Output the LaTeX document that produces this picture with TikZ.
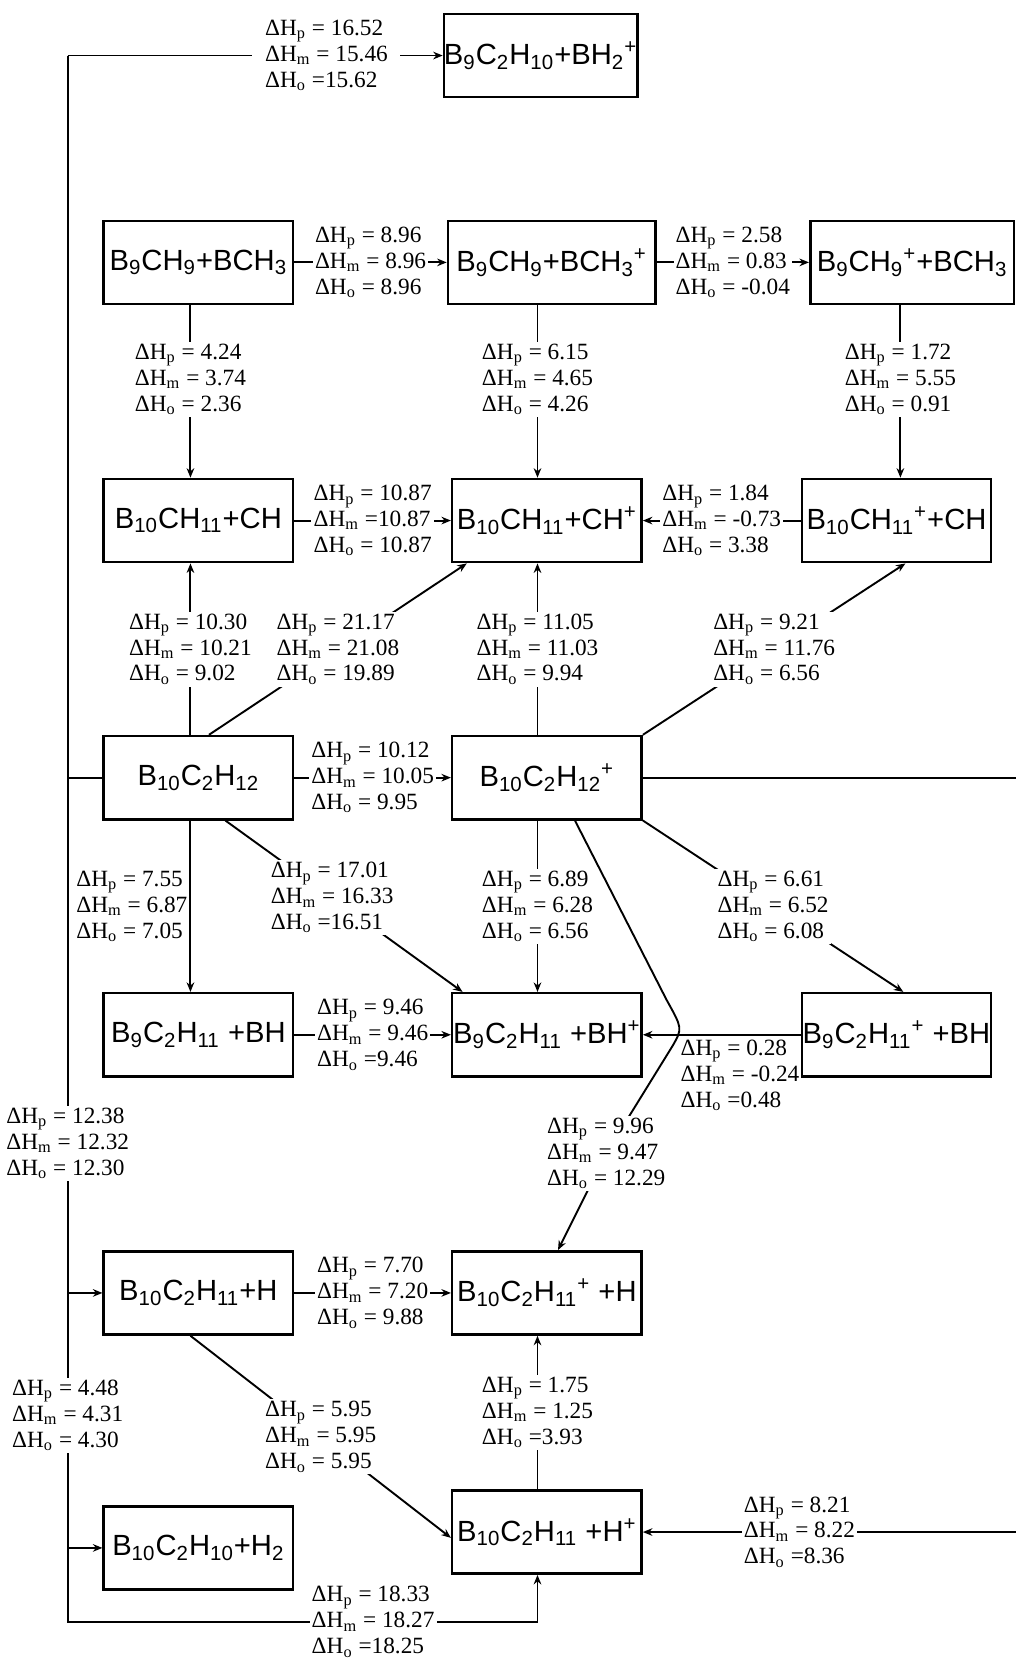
\documentclass[tikz,border=0pt]{standalone}
\usepackage{fontspec}
\setmainfont{Liberation Serif}
\newfontfamily\boxfont{Liberation Sans}
\usetikzlibrary{arrows.meta,positioning}
\newcommand{\ssub}[1]{\textsubscript{#1}}
\newcommand{\chg}{\textsuperscript{+}}
\newcommand{\dHs}[1]{ΔH\textsubscript{#1}}

\begin{document}
\begin{tikzpicture}[
    x=0.5pt, y=-0.5pt,
    species/.style={rectangle, draw, line width=1.2pt, minimum width=89.5pt, minimum height=39.3pt, inner xsep=0pt, inner ysep=1pt, font=\boxfont\fontsize{13.8}{17}\selectfont},
    lbl/.style={align=left, inner sep=1pt, font=\fontsize{11}{12.25}\selectfont},
    brk/.style={lbl, fill=white},
    arr/.style={-{Stealth[length=4.5pt, width=3.6pt]}, line width=0.9pt},
    ln/.style={line width=0.9pt}
]
\useasboundingbox (0,0) rectangle (960,1568);

% species
\node[species] (neut) at (187.5,735) {B\ssub{10}C\ssub{2}H\ssub{12}};
\node[species, right=74pt of neut] (ion) {B\ssub{10}C\ssub{2}H\ssub{12}\chg};
\node[species, above=81pt of neut] (ch) {B\ssub{10}CH\ssub{11}+CH};
\node[species, right=74pt of ch] (chp) {B\ssub{10}CH\ssub{11}+CH\chg};
\node[species, right=74.5pt of chp] (cb10p) {B\ssub{10}CH\ssub{11}\chg+CH};
\node[species, above=81.5pt of ch] (ch3) {B\ssub{9}CH\ssub{9}+BCH\ssub{3}};
\node[species, right=72pt of ch3, minimum width=98pt] (ch3p) {B\ssub{9}CH\ssub{9}+BCH\ssub{3}\chg};
\node[species, right=72pt of ch3p, minimum width=96.3pt] (b9chp) {B\ssub{9}CH\ssub{9}\chg+BCH\ssub{3}};
\node[species] (bhtwop) at (511,52.5) {B\ssub{9}C\ssub{2}H\ssub{10}+BH\ssub{2}\chg};
\node[species, below=81pt of neut] (bh) {B\ssub{9}C\ssub{2}H\ssub{11} +BH};
\node[species, right=74pt of bh] (bhp) {B\ssub{9}C\ssub{2}H\ssub{11} +BH\chg};
\node[species, right=74.5pt of bhp] (b9c2p) {B\ssub{9}C\ssub{2}H\ssub{11}\chg{} +BH};
\node[species, below=81.5pt of bh] (hh) {B\ssub{10}C\ssub{2}H\ssub{11}+H};
\node[species, right=74pt of hh] (hion) {B\ssub{10}C\ssub{2}H\ssub{11}\chg{} +H};
\node[species, below=80pt of hh] (htwo) {B\ssub{10}C\ssub{2}H\ssub{10}+H\ssub{2}};
\node[species, below=72.5pt of hion] (hp) {B\ssub{10}C\ssub{2}H\ssub{11} +H\chg};

% bus lines and bend points
\coordinate (bus) at (64,0);
\coordinate (busbot) at (64,1533);
\coordinate (rbus) at (960,0);
\coordinate (colL) at (180,0);
\coordinate (colM) at (508,0);
\coordinate (colR) at (851,0);
\coordinate (bendA) at (630,945);
\coordinate (bendB) at (645,972);
\coordinate (bendC) at (636,988);
\coordinate (k996) at (573,1090);

% left bus
\draw[arr] (bus |- bhtwop) -- node[brk, pos=0.69, inner xsep=6pt]{\dHs{p} = 16.52\\\dHs{m} = 15.46\\\dHs{o} =15.62} (bhtwop);
\draw[arr] (bus |- bhtwop) -- (bus |- neut)
    -- node[brk, pos=0.71]{\dHs{p} = 12.38\\\dHs{m} = 12.32\\\dHs{o} = 12.30} (bus |- hh)
    -- node[brk, pos=0.48]{\dHs{p} = 4.48\\\dHs{m} = 4.31\\\dHs{o} = 4.30} (bus |- htwo)
    -- (busbot)
    -- node[brk, pos=0.65]{\dHs{p} = 18.33\\\dHs{m} = 18.27\\\dHs{o} =18.25} (busbot -| colM)
    -- (colM |- hp.south);
\draw[ln] (bus |- neut) -- (neut);
\draw[arr] (bus |- hh) -- (hh);
\draw[arr] (bus |- htwo) -- (htwo);

% horizontal steps
\draw[arr] (ch3) -- node[brk]{\dHs{p} = 8.96\\\dHs{m} = 8.96\\\dHs{o} = 8.96} (ch3p);
\draw[arr] (ch3p) -- node[brk]{\dHs{p} = 2.58\\\dHs{m} = 0.83\\\dHs{o} = -0.04} (b9chp);
\draw[arr] (ch) -- node[brk]{\dHs{p} = 10.87\\\dHs{m} =10.87\\\dHs{o} = 10.87} (chp);
\draw[arr] (cb10p) -- node[brk]{\dHs{p} = 1.84\\\dHs{m} = -0.73\\\dHs{o} = 3.38} (chp);
\draw[arr] (neut) -- node[brk]{\dHs{p} = 10.12\\\dHs{m} = 10.05\\\dHs{o} = 9.95} (ion);
\draw[arr] (bh) -- node[brk]{\dHs{p} = 9.46\\\dHs{m} = 9.46\\\dHs{o} =9.46} (bhp);
\draw[arr] (b9c2p) -- node[lbl, anchor=north west, pos=0.78, yshift=-1pt]{\dHs{p} = 0.28\\\dHs{m} = -0.24\\\dHs{o} =0.48} (bhp);
\draw[arr] (hh) -- node[brk]{\dHs{p} = 7.70\\\dHs{m} = 7.20\\\dHs{o} = 9.88} (hion);
\draw[ln] (ion) -- (ion -| rbus);
\draw[arr] (rbus |- hp) -- node[brk, pos=0.58]{\dHs{p} = 8.21\\\dHs{m} = 8.22\\\dHs{o} =8.36} (hp);

% vertical steps
\draw[arr] (colL |- ch3.south) -- node[brk, pos=0.43]{\dHs{p} = 4.24\\\dHs{m} = 3.74\\\dHs{o} = 2.36} (colL |- ch.north);
\draw[arr] (colM |- ch3p.south) -- node[brk, pos=0.43]{\dHs{p} = 6.15\\\dHs{m} = 4.65\\\dHs{o} = 4.26} (colM |- chp.north);
\draw[arr] (colR |- b9chp.south) -- node[brk, pos=0.43]{\dHs{p} = 1.72\\\dHs{m} = 5.55\\\dHs{o} = 0.91} (colR |- cb10p.north);
\draw[arr] (colL |- neut.north) -- node[brk]{\dHs{p} = 10.30\\\dHs{m} = 10.21\\\dHs{o} = 9.02} (colL |- ch.south);
\draw[arr] (colM |- ion.north) -- node[brk]{\dHs{p} = 11.05\\\dHs{m} = 11.03\\\dHs{o} = 9.94} (colM |- chp.south);
\draw[arr] (colL |- neut.south) -- node[lbl, left]{\dHs{p} = 7.55\\\dHs{m} = 6.87\\\dHs{o} = 7.05} (colL |- bh.north);
\draw[arr] (colM |- ion.south) -- node[brk]{\dHs{p} = 6.89\\\dHs{m} = 6.28\\\dHs{o} = 6.56} (colM |- bhp.north);
\draw[arr] (colM |- hp.north) -- node[brk]{\dHs{p} = 1.75\\\dHs{m} = 1.25\\\dHs{o} =3.93} (colM |- hion.south);

% diagonal steps
\draw[arr] ([xshift=5pt]neut.north) -- node[brk]{\dHs{p} = 21.17\\\dHs{m} = 21.08\\\dHs{o} = 19.89} ([xshift=7.5pt]chp.south west);
\draw[arr] (ion.north east) -- node[brk]{\dHs{p} = 9.21\\\dHs{m} = 11.76\\\dHs{o} = 6.56} ([xshift=4.25pt]cb10p.south);
\draw[arr] ([xshift=12.75pt]neut.south) -- node[brk, pos=0.45]{\dHs{p} = 17.01\\\dHs{m} = 16.33\\\dHs{o} =16.51} ([xshift=5.5pt]bhp.north west);
\draw[arr] (ion.south east) -- node[brk]{\dHs{p} = 6.61\\\dHs{m} = 6.52\\\dHs{o} = 6.08} ([xshift=3.25pt]b9c2p.north);
\draw[arr] (colL |- hh.south) -- node[brk]{\dHs{p} = 5.95\\\dHs{m} = 5.95\\\dHs{o} = 5.95} ([yshift=-2.75pt]hp.west);
\draw[arr] ([xshift=13.25pt]ion.south) -- (bendA) .. controls (bendB) .. (bendC) -- (k996) -- ([xshift=5.25pt]hion.north);
\node[brk] at (k996) {\dHs{p} = 9.96\\\dHs{m} = 9.47\\\dHs{o} = 12.29};

\end{tikzpicture}
\end{document}
